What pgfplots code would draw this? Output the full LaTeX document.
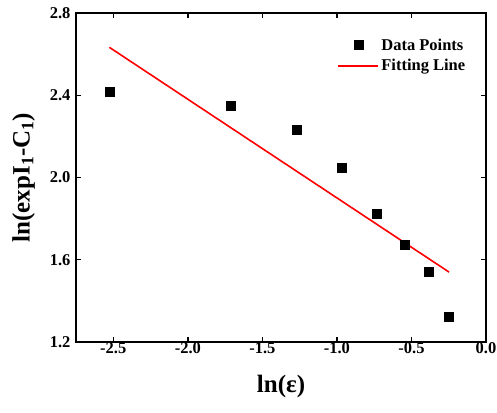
\documentclass[border=0pt]{standalone}
\usepackage{fontspec}
\setmainfont{Liberation Serif}
\usepackage{pgfplots}
\pgfplotsset{compat=1.18}
\pgfplotsset{
  markleg/.style={legend image code/.code={\draw[mark repeat=2,mark phase=2,##1] plot coordinates {(0pt,0pt) (20pt,0pt) (40pt,0pt)};}},
  lineleg/.style={legend image code/.code={\draw[##1] (0pt,0pt) -- (40pt,0pt);}},
}
\begin{document}
\begin{tikzpicture}
\begin{axis}[
  at={(0,0)}, anchor=south west,
  scale only axis, width=410pt, height=329pt,
  xmin=-2.75, xmax=0.0, ymin=1.2, ymax=2.8,
  xtick={-2.5,-2.0,-1.5,-1.0,-0.5,0.0},
  ytick={1.2,1.6,2.0,2.4,2.8},
  tick align=inside, tick pos=both,
  major tick length=5pt,
  axis line style={line width=1.6pt},
  every tick/.style={line width=1.4pt, black},
  /pgf/number format/assume math mode=true,
  /pgf/number format/.cd, fixed, fixed zerofill, precision=1, /pgfplots/.cd,
  ticklabel style={font=\fontsize{16.5}{18}\selectfont\bfseries},
  xticklabel style={yshift=3pt},
  yticklabel style={xshift=-2pt},
  xlabel={\textbf{ln(ε)}},
  ylabel={\textbf{ln(expI\textsubscript{1}-C\textsubscript{1})}},
  label style={font=\fontsize{25}{28}\selectfont},
  xlabel style={at={(0.5,-0.1337)}, anchor=center},
  ylabel style={at={(-0.128,0.5)}, anchor=center},
  legend style={draw=none, fill=none, at={(0.962,0.935)}, anchor=north east,
    font=\fontsize{16.5}{18}\selectfont\bfseries, row sep=3.5pt},
  legend cell align=left,
]
\addplot[only marks, mark=square*, mark size=4.5pt, black, markleg]
  coordinates {(-2.526,2.417) (-1.715,2.351) (-1.273,2.231) (-0.968,2.046)
               (-0.734,1.822) (-0.545,1.672) (-0.386,1.540) (-0.248,1.321)};
\addlegendentry{Data Points}
\addplot[red, line width=1.6pt, no marks, forget plot]
  coordinates {(-2.526,2.633) (-0.248,1.540)};
\addlegendimage{red, line width=2pt, lineleg}
\addlegendentry{Fitting Line}
\end{axis}
\pgfresetboundingbox
\path (-76pt,-70pt) rectangle (421pt,342pt);
\end{tikzpicture}
\end{document}
